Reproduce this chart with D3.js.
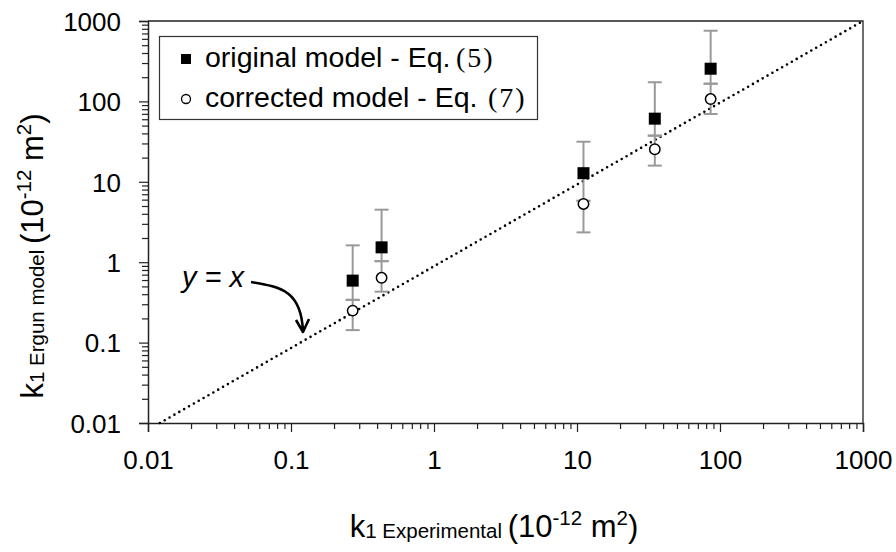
<!DOCTYPE html>
<html>
<head>
<meta charset="utf-8">
<script src="https://cdn.jsdelivr.net/npm/d3@7"></script>
<style>
  body { margin: 0; background: #fff; }
  svg { font-family: "Liberation Sans", Arial, sans-serif; }
</style>
</head>
<body>
<div id="chart"></div>
<script>
// k1 experimental (x) vs k1 from Ergun model (y), both in 1e-12 m2
const kExp = [0.27, 0.43, 11.1, 35, 86];
const origModel = [0.59, 1.53, 12.8, 61, 255];
const origHigh = [1.62, 4.5, 31.5, 173, 757];
const origLow = [0.34, 1.03, 5.8, 37.5, 166];
const corrModel = [0.25, 0.64, 5.3, 25.4, 107];
const corrHigh = [0.34, 1.03, 5.8, 37.5, 166];
const corrLow = [0.143, 0.43, 2.35, 15.9, 69.7];
const tickVals = [0.01, 0.1, 1, 10, 100, 1000];
const tickLabels = ['0.01', '0.1', '1', '10', '100', '1000'];
const parityLine = [[0.0121, 0.01], [1000, 1000]];

const width = 896, height = 552;
const margin = { top: 21, right: 33, bottom: 129, left: 148 };

const svg = d3.select('#chart')
  .append('svg')
  .attr('width', width)
  .attr('height', height);

const x = d3.scaleLog()
  .domain([0.01, 1000])
  .range([margin.left, width - margin.right]);

const y = d3.scaleLog()
  .domain([0.01, 1000])
  .range([height - margin.bottom, margin.top]);

// minor ticks 2..9 in each decade
const minor = [];
tickVals.slice(0, -1).forEach(d => {
  for (let m = 2; m <= 9; m++) minor.push(d * m);
});

// plot frame (top + right)
svg.append('path')
  .attr('d', 'M' + x(0.01) + ',' + y(1000) + 'H' + x(1000) + 'V' + y(0.01))
  .attr('fill', 'none')
  .attr('stroke', '#222')
  .attr('stroke-width', 1.3);

// axes
const xAxis = svg.append('g')
  .attr('transform', 'translate(0,' + y(0.01) + ')');
xAxis.call(d3.axisBottom(x).tickValues(minor).tickSize(6).tickFormat(''));
xAxis.call(g => g.select('.domain').remove());
xAxis.append('g').call(d3.axisBottom(x).tickValues(tickVals).tickSize(9)
  .tickFormat((d, i) => tickLabels[i]).tickPadding(19));

const yAxis = svg.append('g')
  .attr('transform', 'translate(' + x(0.01) + ',0)');
yAxis.call(d3.axisLeft(y).tickValues(minor).tickSize(6).tickFormat(''));
yAxis.call(g => g.select('.domain').remove());
yAxis.append('g').call(d3.axisLeft(y).tickValues(tickVals).tickSize(9)
  .tickFormat((d, i) => tickLabels[i]).tickPadding(18));

svg.selectAll('.tick line').attr('stroke', '#222').attr('stroke-width', 1.2);
svg.selectAll('.domain').attr('stroke', '#222').attr('stroke-width', 1.5);
svg.selectAll('.tick text')
  .attr('font-family', '"Liberation Sans", Arial, sans-serif')
  .attr('font-size', 26)
  .attr('fill', '#000');
yAxis.selectAll('.tick text').attr('dy', '0.36em');

// y = x dotted line
svg.append('path')
  .datum(parityLine)
  .attr('fill', 'none')
  .attr('stroke', '#000')
  .attr('stroke-width', 2.6)
  .attr('stroke-linecap', 'round')
  .attr('stroke-dasharray', '0,5.6')
  .attr('d', d3.line().x(d => x(d[0])).y(d => y(d[1])));

// error bars
const bars = [];
kExp.forEach((k, i) => {
  bars.push({ k: k, lo: corrLow[i], hi: corrHigh[i] });
  bars.push({ k: k, lo: origLow[i], hi: origHigh[i] });
});
const eb = svg.append('g')
  .attr('stroke', '#999')
  .attr('stroke-width', 2);
bars.forEach(b => {
  const cx = x(b.k);
  eb.append('line').attr('x1', cx).attr('x2', cx).attr('y1', y(b.lo)).attr('y2', y(b.hi));
  eb.append('line').attr('x1', cx - 7).attr('x2', cx + 7).attr('y1', y(b.lo)).attr('y2', y(b.lo));
  eb.append('line').attr('x1', cx - 7).attr('x2', cx + 7).attr('y1', y(b.hi)).attr('y2', y(b.hi));
});

// markers
svg.append('g').selectAll('rect')
  .data(kExp)
  .join('rect')
  .attr('x', d => x(d) - 6)
  .attr('y', (d, i) => y(origModel[i]) - 6)
  .attr('width', 12)
  .attr('height', 12)
  .attr('fill', '#000');

svg.append('g').selectAll('circle')
  .data(kExp)
  .join('circle')
  .attr('cx', d => x(d))
  .attr('cy', (d, i) => y(corrModel[i]))
  .attr('r', 5.2)
  .attr('fill', '#fff')
  .attr('stroke', '#000')
  .attr('stroke-width', 1.5);

// legend
const lg = svg.append('g');
lg.append('rect')
  .attr('x', 159.5).attr('y', 36.5)
  .attr('width', 378).attr('height', 83)
  .attr('fill', '#fff')
  .attr('stroke', '#333')
  .attr('stroke-width', 1.2);
lg.append('rect').attr('x', 181).attr('y', 54).attr('width', 10).attr('height', 10).attr('fill', '#000');
lg.append('circle').attr('cx', 186).attr('cy', 99).attr('r', 4.5)
  .attr('fill', '#fff').attr('stroke', '#000').attr('stroke-width', 1.3);

const serif = '"Liberation Serif", "Times New Roman", serif';
const t1 = lg.append('text').attr('x', 205).attr('y', 67).attr('font-size', 28.5);
t1.append('tspan').text('original model - Eq.');
t1.append('tspan').attr('x', 456).attr('font-family', serif)
  .attr('font-size', 28).attr('letter-spacing', 2).text('(5)');
const t2 = lg.append('text').attr('x', 205).attr('y', 107).attr('font-size', 28.5);
t2.append('tspan').text('corrected model - Eq.');
t2.append('tspan').attr('x', 488).attr('font-family', serif)
  .attr('font-size', 28).attr('letter-spacing', 2).text('(7)');

// annotation
const ann = svg.append('text')
  .attr('x', 182).attr('y', 287)
  .attr('font-size', 29)
  .attr('font-style', 'italic');
ann.text('y = x');
svg.append('path')
  .attr('d', 'M251,282 C283,287 301,292 303,331 M296,320 L303,332 L309,319')
  .attr('fill', 'none')
  .attr('stroke', '#000')
  .attr('stroke-width', 2.6)
  .attr('stroke-linejoin', 'round');

// axis titles
function title(sel, sub) {
  sel.append('tspan').attr('font-size', 31).text('k');
  sel.append('tspan').attr('font-size', 20.5).attr('dy', 1).text('1 ');
  sel.append('tspan').attr('font-size', 20.5).text(sub + ' ');
  sel.append('tspan').attr('font-size', 31).attr('dy', -1).text('(10');
  sel.append('tspan').attr('font-size', 20.5).attr('dy', -12).text('-12');
  sel.append('tspan').attr('font-size', 31).attr('dy', 12).text(' m');
  sel.append('tspan').attr('font-size', 20.5).attr('dy', -12).text('2');
  sel.append('tspan').attr('font-size', 31).attr('dy', 12).text(')');
}

const xt = svg.append('text')
  .attr('x', 494).attr('y', 537)
  .attr('text-anchor', 'middle');
title(xt, 'Experimental');

const yt = svg.append('text')
  .attr('transform', 'translate(43,256) rotate(-90)')
  .attr('text-anchor', 'middle');
title(yt, 'Ergun model');
</script>
</body>
</html>
